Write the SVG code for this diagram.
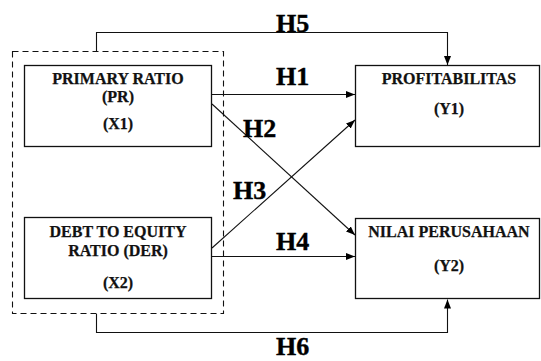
<svg xmlns="http://www.w3.org/2000/svg" width="541" height="361" viewBox="0 0 541 361">
<defs>
<marker id="ah" markerWidth="9" markerHeight="7" refX="9" refY="3.5" orient="auto" markerUnits="userSpaceOnUse">
<path d="M0,0 L9,3.5 L0,7 Z" fill="#000"/>
</marker>
<style>
.box{fill:#fff;stroke:#111;stroke-width:1.3}
.t{font-family:"Liberation Serif","Times New Roman",serif;font-weight:bold;font-size:16px;fill:#111;stroke:#111;stroke-width:0.25;text-anchor:middle}
.h{font-family:"Liberation Serif","Times New Roman",serif;font-weight:bold;font-size:26px;fill:#000;stroke:#000;stroke-width:0.4}
.a{fill:none;stroke:#111;stroke-width:1.1;marker-end:url(#ah)}
</style>
</defs>
<rect width="541" height="361" fill="#fff"/>
<g id="group">
<rect x="12.5" y="51.5" width="211" height="262" fill="none" stroke="#111" stroke-width="1.1" stroke-dasharray="6,4"/>
</g>
<g id="connectors">
<path class="a" d="M96.5,51 V32.5 H447.5 V65"/>
<path class="a" d="M96.5,314 V332.5 H447.5 V299.5"/>
<path class="a" d="M212,94.5 H355"/>
<path class="a" d="M212,104 L355,235"/>
<path class="a" d="M212,248 L355,120"/>
<path class="a" d="M212,256.5 H355"/>
</g>
<g id="PR">
<rect class="box" x="24.5" y="65.5" width="187" height="81"/>
<text class="t" x="118" y="84">PRIMARY RATIO</text>
<text class="t" x="118" y="102">(PR)</text>
<text class="t" x="118" y="129">(X1)</text>
</g>
<g id="DER">
<rect class="box" x="24.5" y="217.5" width="187" height="81"/>
<text class="t" x="118" y="237">DEBT TO EQUITY</text>
<text class="t" x="118" y="256">RATIO (DER)</text>
<text class="t" x="118" y="288">(X2)</text>
</g>
<g id="Y1">
<rect class="box" x="355.5" y="65.5" width="184" height="81"/>
<text class="t" x="449" y="84">PROFITABILITAS</text>
<text class="t" x="449" y="114">(Y1)</text>
</g>
<g id="Y2">
<rect class="box" x="355.5" y="218.5" width="184" height="80"/>
<text class="t" x="449" y="237">NILAI PERUSAHAAN</text>
<text class="t" x="449" y="271">(Y2)</text>
</g>
<g id="labels">
<text class="h" x="276" y="32">H5</text>
<text class="h" x="276" y="85">H1</text>
<text class="h" x="243" y="137">H2</text>
<text class="h" x="233" y="199">H3</text>
<text class="h" x="276" y="250">H4</text>
<text class="h" x="276" y="355">H6</text>
</g>
</svg>
